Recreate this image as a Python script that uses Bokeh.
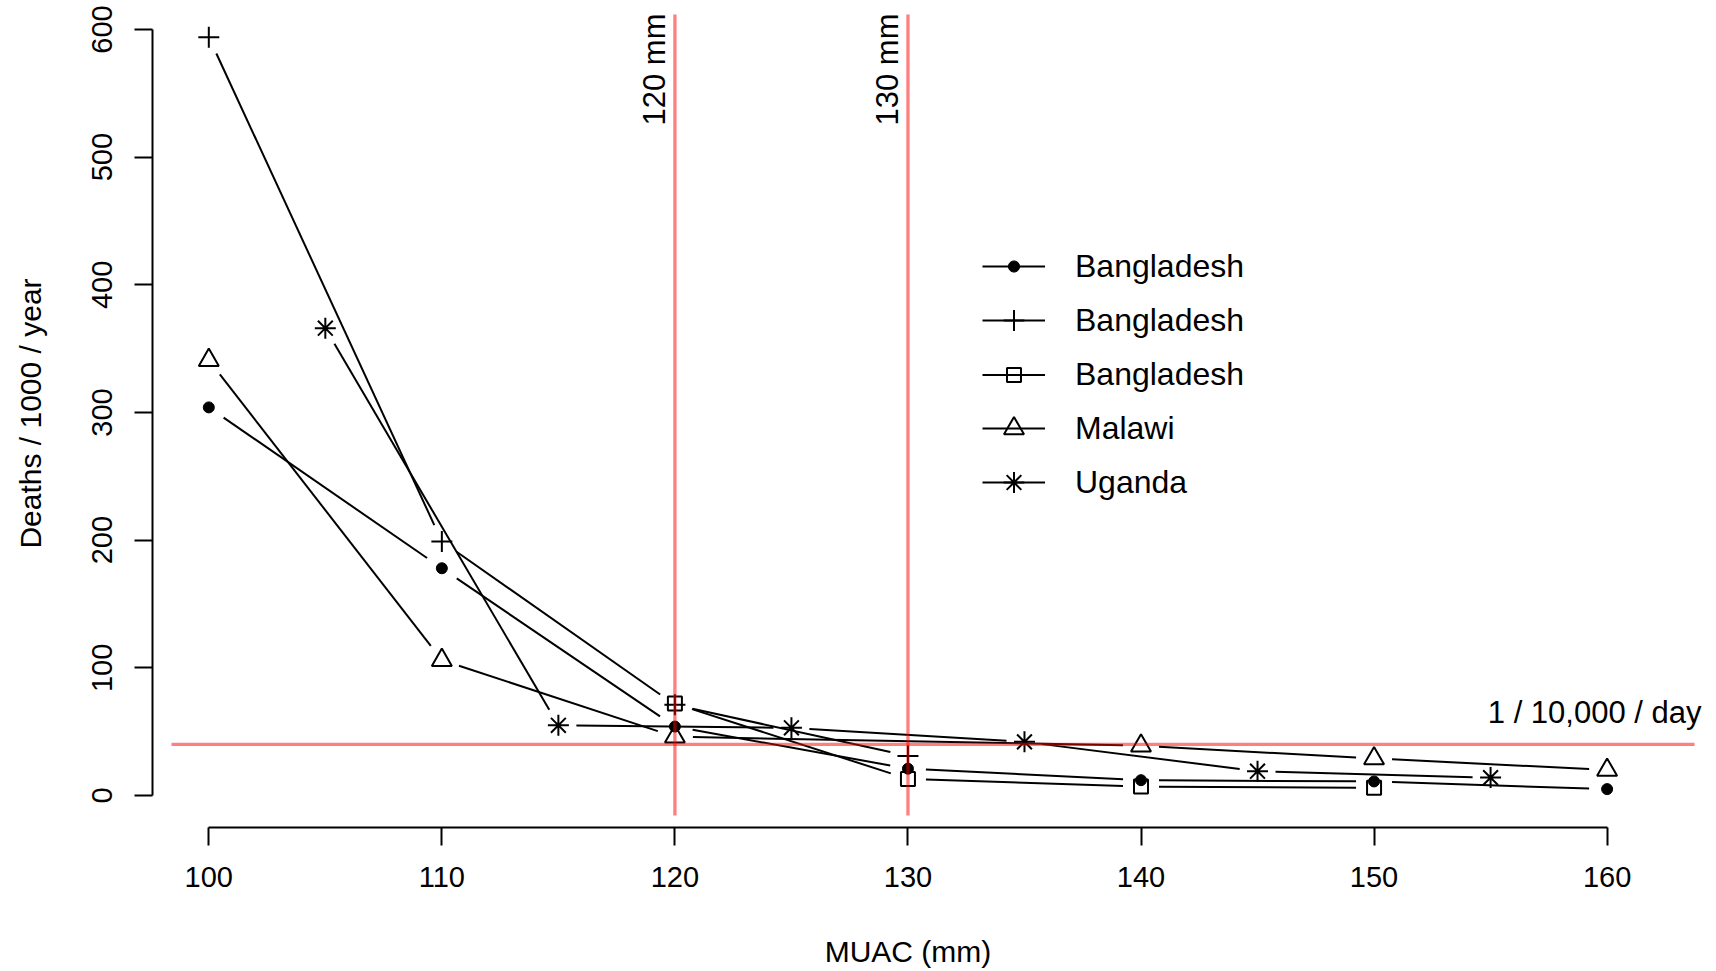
import math

from bokeh.core.properties import value
from bokeh.embed import file_html
from bokeh.models import FixedTicker, Legend, LegendItem, Range1d
from bokeh.plotting import figure
from bokeh.resources import INLINE

# Mortality (deaths / 1000 / year) by mid-upper arm circumference (mm)
bgd1_muac = [100, 110, 120, 130, 140, 150, 160]
bgd1_deaths = [304, 178, 54, 21, 12, 11, 5]

bgd2_muac = [100, 110, 120, 130]
bgd2_deaths = [594, 199, 71, 31]

bgd3_muac = [120, 130, 140, 150]
bgd3_deaths = [72, 13, 7, 6]

malawi_muac = [100, 110, 120, 140, 150, 160]
malawi_deaths = [341, 106, 46, 39, 29, 20]

uganda_muac = [105, 115, 125, 135, 145, 155]
uganda_deaths = [366, 55, 53, 42, 19, 14]

series_names = ["Bangladesh", "Bangladesh", "Bangladesh", "Malawi", "Uganda"]

x_ticks = [100, 110, 120, 130, 140, 150, 160]
y_ticks = [0, 100, 200, 300, 400, 500, 600]

cutoffs_mm = [120, 130]          # MUAC case-definition cut-offs
emergency_threshold = 40         # 1 / 10,000 / day expressed per 1000 per year

# ---- layout -------------------------------------------------------------
# The frame fills the whole canvas; the axes are pinned to the edges of the
# plotting region so that titles and margins can be laid out freely.
W, H = 1716, 971
X_VIEW = (91.062, 164.694)
Y_VIEW = (-137.86, 622.7)
REGION_X = (97.6, 162.4)         # plotting region (axes sit on its edges)
REGION_Y = (-25.06, 617.0)
# extent in which the reference rules are drawn
RULE_X = (98.4, 163.75)
RULE_Y = (-15.7, 611.7)

FONT = "Liberation Sans"
GAP_PX = 18          # gap left between a line and its point markers

px_per_x = W / (X_VIEW[1] - X_VIEW[0])
px_per_y = H / (Y_VIEW[1] - Y_VIEW[0])


def x_at_px(px):
    return X_VIEW[0] + px / px_per_x


def y_at_px(py):
    return Y_VIEW[1] - py / px_per_y


def gapped_segments(xs, ys, gap=GAP_PX):
    """Connecting segments shortened at both ends, like R's type='b'."""
    x0, y0, x1, y1 = [], [], [], []
    for xa, ya, xb, yb in zip(xs[:-1], ys[:-1], xs[1:], ys[1:]):
        d = math.hypot((xb - xa) * px_per_x, (yb - ya) * px_per_y)
        if d <= 2 * gap:
            continue
        t = gap / d
        x0.append(xa + t * (xb - xa))
        y0.append(ya + t * (yb - ya))
        x1.append(xb - t * (xb - xa))
        y1.append(yb - t * (yb - ya))
    return dict(x0=x0, y0=y0, x1=x1, y1=y1)


p = figure(
    width=W, height=H,
    x_range=Range1d(*X_VIEW), y_range=Range1d(*Y_VIEW),
    output_backend="svg", toolbar_location=None,
    min_border_left=0, min_border_right=0,
    min_border_top=0, min_border_bottom=0,
    outline_line_color=None, background_fill_color="white",
    border_fill_color="white",
)
p.grid.visible = False

# ---- axes ---------------------------------------------------------------
for ax in (p.xaxis[0], p.yaxis[0]):
    ax.axis_line_width = 2
    ax.major_tick_line_width = 2
    ax.major_tick_out = 18
    ax.major_tick_in = 0
    ax.minor_tick_line_color = None
    ax.major_label_text_font = FONT
    ax.major_label_text_font_size = "29px"
    ax.major_label_text_color = "black"

p.xaxis.ticker = FixedTicker(ticks=x_ticks)
p.xaxis.bounds = (x_ticks[0], x_ticks[-1])
p.xaxis.fixed_location = REGION_Y[0]
p.xaxis.major_label_standoff = 22

p.yaxis.ticker = FixedTicker(ticks=y_ticks)
p.yaxis.bounds = (y_ticks[0], y_ticks[-1])
p.yaxis.fixed_location = REGION_X[0]
p.yaxis.major_label_orientation = "vertical"
p.yaxis.major_label_standoff = 23

# axis titles, centred on the plotting region
title_style = dict(text_font=value(FONT), text_font_size="30px",
                   text_color="black", text_align="center",
                   text_baseline="middle")
p.text(x=[sum(REGION_X) / 2], y=[y_at_px(951)], text=["MUAC (mm)"],
       **title_style)
p.text(x=[x_at_px(29.5)], y=[y_at_px(413)], text=["Deaths / 1000 / year"],
       angle=math.pi / 2, **title_style)

# ---- series -------------------------------------------------------------
series = [
    (bgd1_muac, bgd1_deaths, "circle", 11, "black"),
    (bgd2_muac, bgd2_deaths, "cross", 21, None),
    (bgd3_muac, bgd3_deaths, "square", 14, None),
    (malawi_muac, malawi_deaths, "triangle", 20, None),
    (uganda_muac, uganda_deaths, "asterisk", 21, None),
]

renderers = []
for xs, ys, marker, size, fill in series:
    seg = p.segment(source=gapped_segments(xs, ys), x0="x0", y0="y0",
                    x1="x1", y1="y1", line_color="black", line_width=2)
    pts = p.scatter(xs, ys, marker=marker, size=size, line_color="black",
                    line_width=2 if fill is None else 1, fill_color=fill)
    renderers.append((seg, pts))

# ---- reference rules ----------------------------------------------------
p.segment(x0=cutoffs_mm, y0=[RULE_Y[0]] * len(cutoffs_mm),
          x1=cutoffs_mm, y1=[RULE_Y[1]] * len(cutoffs_mm),
          line_color="red", line_alpha=0.5, line_width=3.3)
p.segment(x0=[RULE_X[0]], y0=[emergency_threshold],
          x1=[RULE_X[1]], y1=[emergency_threshold],
          line_color="red", line_alpha=0.5, line_width=3.3)

p.text(x=cutoffs_mm, y=[RULE_Y[1]] * len(cutoffs_mm),
       text=[f"{c} mm" for c in cutoffs_mm], angle=math.pi / 2,
       text_align="right", text_baseline="alphabetic",
       x_offset=-20, y_offset=-1,
       text_font=value(FONT), text_font_size="31px", text_color="black")
p.text(x=[RULE_X[1]], y=[emergency_threshold], text=["1 / 10,000 / day"],
       text_align="right", text_baseline="alphabetic",
       x_offset=7, y_offset=-32,
       text_font=value(FONT), text_font_size="31px", text_color="black")

# ---- legend (no frame), one entry per block so each keeps its symbol size
LEGEND_LEFT = 982                # px from the left of the canvas
LEGEND_TOP_ITEM = 266            # px from the top of the canvas
LEGEND_STEP = 54
LABEL_H = 40
for i, (name, (seg, pts), (_, _, _, size, _)) in enumerate(
        zip(series_names, renderers, series)):
    glyph_h = int(round(size / 0.4))
    item_h = max(glyph_h, LABEL_H)
    centre = LEGEND_TOP_ITEM + i * LEGEND_STEP
    p.add_layout(Legend(
        items=[LegendItem(label=name, renderers=[seg, pts])],
        location=(LEGEND_LEFT, int(round(H - centre - item_h / 2))),
        border_line_color=None, background_fill_alpha=0, padding=0, margin=0,
        glyph_width=63, glyph_height=glyph_h, label_height=LABEL_H,
        label_standoff=30, label_text_font=FONT, label_text_font_size="32px",
        label_text_color="black",
    ))

open("out.html", "w").write(file_html(p, INLINE))
